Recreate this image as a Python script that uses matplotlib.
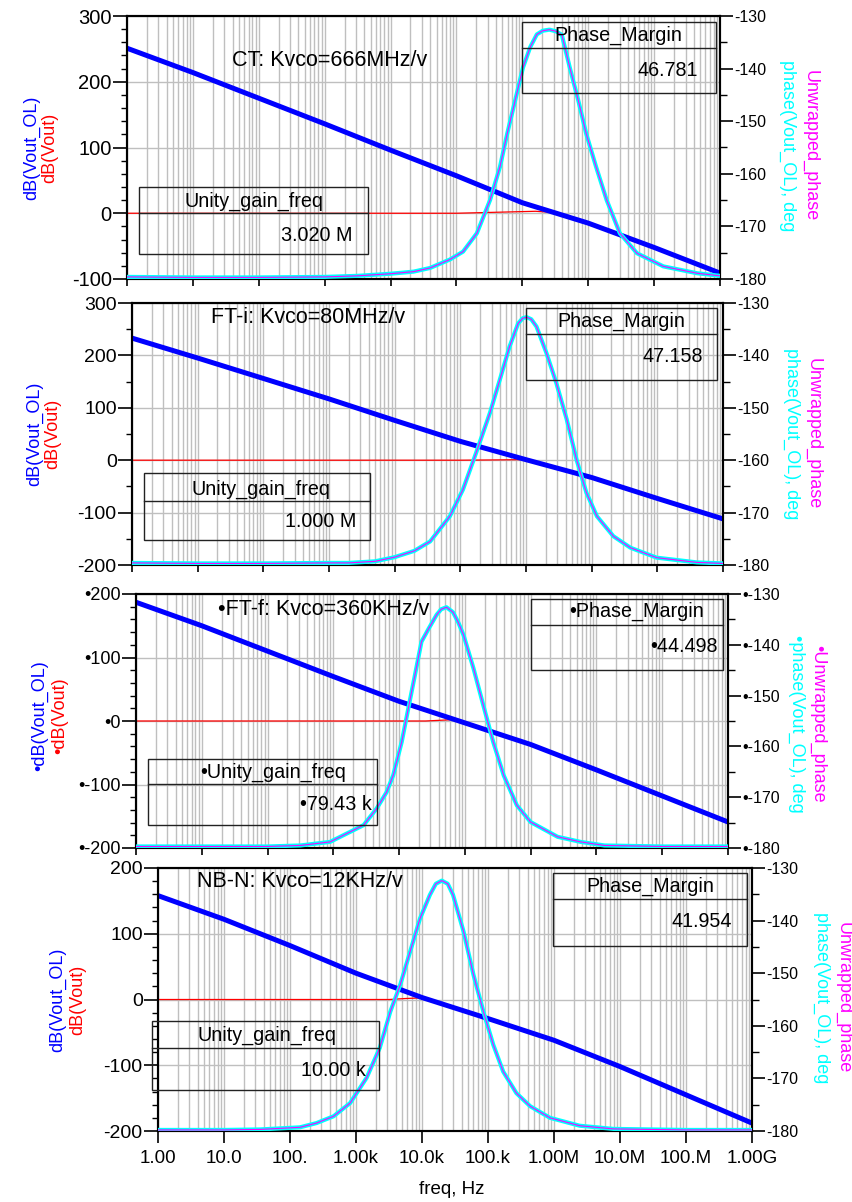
import numpy as np
import matplotlib
matplotlib.use('Agg')
import matplotlib.pyplot as plt
from matplotlib.ticker import FixedLocator, MultipleLocator, FuncFormatter, LogLocator, NullFormatter, FixedFormatter
from matplotlib.patches import Rectangle
from matplotlib.lines import Line2D

plt.rcParams['font.family'] = ['Liberation Sans', 'DejaVu Sans']
plt.rcParams['axes.unicode_minus'] = False

# ---------------- data (log10 of frequency in Hz, values) ----------------
decades = [0, 1, 2, 3, 4, 5, 6, 7, 8, 9]
x_tick_labels = ["1.00", "10.0", "100.", "1.00k", "10.0k", "100.k", "1.00M", "10.0M", "100.M", "1.00G"]

# Panel 1 : CT
ct_gain = [251, 214, 175, 136, 96, 57, 16, -15, -52, -91]
ct_cl_logf = [0, 1, 2, 3, 4, 5, 5.6, 6.2, 6.5, 7, 8, 9]
ct_cl_gain = [0, 0, 0, 0, 0, 0, 1.5, 3, 1, -15, -52, -91]
ct_ph_logf = [0, 1, 2, 3, 3.5, 4.0, 4.35, 4.6, 4.9, 5.1, 5.31, 5.51, 5.66, 5.77, 5.89, 6.01,
              6.12, 6.22, 6.31, 6.41, 6.51, 6.60, 6.72, 6.85, 6.97, 7.12, 7.28, 7.48, 7.74, 8.14, 8.65, 9.0]
ct_phase = [-179.6, -179.7, -179.7, -179.6, -179.4, -179.0, -178.6, -177.9, -176.3, -174.8, -171.3,
            -165.0, -158.7, -152.4, -146.1, -139.8, -135.9, -133.5, -132.8, -132.6, -132.9, -133.6,
            -139.8, -146.1, -152.4, -158.7, -165.0, -171.3, -175.1, -177.6, -178.9, -179.4]

# Panel 2 : FT-i
fti_gain = [233, 195, 156, 117, 76, 36, 1, -33, -73, -112]
fti_cl_logf = [0, 1, 2, 3, 4, 5, 5.5, 5.9, 6.0, 7, 8, 9]
fti_cl_gain = [0, 0, 0, 0, 0, 0, 0.5, 1, 1, -33, -73, -112]
fti_ph_logf = [0, 1, 2, 3, 3.3, 3.7, 4.0, 4.3, 4.54, 4.84, 5.04, 5.24, 5.45, 5.60, 5.75, 5.88, 5.95,
               6.01, 6.08, 6.16, 6.31, 6.46, 6.62, 6.77, 6.92, 7.08, 7.33, 7.59, 7.99, 8.6, 9.0]
fti_phase = [-179.6, -179.7, -179.7, -179.6, -179.6, -179.3, -178.5, -177.3, -175.5, -170.7, -165.6,
             -158.6, -151.0, -144.7, -138.3, -133.9, -132.9, -132.7, -133.1, -134.5, -139.5, -145.2,
             -152.2, -159.9, -166.2, -170.7, -174.5, -176.7, -178.6, -179.5, -179.7]

# Panel 3 : FT-f
ftf_gain = [187, 150, 110, 70, 31, -3, -37, -77, -118, -159]
ftf_cl_logf = [0, 1, 2, 3, 4, 4.4, 4.7, 4.9, 5, 6, 7, 8, 9]
ftf_cl_gain = [0, 0, 0, 0, 0, 0, 1.5, 2.5, -3, -37, -77, -118, -159]
ftf_ph_logf = [0, 1, 2, 2.5, 2.95, 3.46, 3.66, 3.81, 3.91, 4.04, 4.14, 4.24, 4.34, 4.45, 4.57, 4.64,
               4.72, 4.82, 4.9, 4.98, 5.13, 5.28, 5.43, 5.59, 5.79, 6.0, 6.41, 6.76, 7.12, 8, 9]
ftf_phase = [-179.7, -179.7, -179.7, -179.5, -178.8, -175.5, -172.2, -169.0, -165.7, -159.1, -152.5,
             -146.0, -139.4, -136.8, -134.1, -133.0, -132.6, -133.6, -135.6, -138.1, -144.6, -151.9,
             -159.1, -165.7, -171.6, -174.9, -177.8, -178.8, -179.5, -179.7, -179.7]

# Panel 4 : NB-N
nbn_gain = [158, 122, 82, 40, 3, -29, -62, -102, -145, -188]
nbn_cl_logf = [0, 1, 2, 3, 3.5, 3.75, 4.0, 4.1, 5, 6, 7, 8, 9]
nbn_cl_gain = [0, 0, 0, 0, 0, 1.5, 2.5, -0.3, -29, -62, -102, -145, -188]
nbn_ph_logf = [0, 1, 1.55, 2.15, 2.4, 2.66, 2.91, 3.16, 3.36, 3.52, 3.67, 3.82, 3.97, 4.12, 4.21,
               4.30, 4.39, 4.47, 4.63, 4.78, 4.93, 5.08, 5.23, 5.43, 5.64, 5.94, 6.39, 6.9, 8, 9]
nbn_phase = [-179.8, -179.8, -179.7, -179.3, -178.5, -177.2, -174.7, -169.9, -164.2, -157.3, -152.2,
             -145.9, -139.6, -135.1, -133.0, -132.4, -133.0, -135.1, -142.1, -150.3, -157.3, -163.6,
             -168.7, -172.8, -175.3, -177.5, -179.0, -179.6, -179.8, -179.8]

titles = ["CT: Kvco=666MHz/v", "FT-i: Kvco=80MHz/v", "\u2022FT-f: Kvco=360KHz/v", "NB-N: Kvco=12KHz/v"]
ugf_values = ["3.020 M", "1.000 M", "\u202279.43 k", "10.00 k"]
pm_values = ["46.781", "47.158", "\u202244.498", "41.954"]

# ---------------- layout ----------------
W, H = 853, 1202
fig = plt.figure(figsize=(W / 100, H / 100), dpi=100)

def fx(x):
    return x / W

def fy(y):
    return 1 - y / H

BLUE = '#0000ff'
RED = '#ff0000'
CYAN = '#00ffff'
MAGENTA = '#ff00ff'
GRID = '#bfbfbf'

panels = [
    dict(box=(127, 16, 720, 279), ylim=(-100, 300), minor=20, lfs=14.5, bullet=False,
         gain=ct_gain, cl=(ct_cl_logf, ct_cl_gain), ph=(ct_ph_logf, ct_phase),
         title=(231.7, 60), ugf=(139.3, 186.7, 367.7, 254.3, 213.3, 254, 201.7, 352.3, 235),
         pm=(521.7, 21.7, 715.7, 93.3, 48.3, 618, 35, 698.3, 70),
         llab=(32, 50, 147.6), rlab=(788, 810, 146), xlen=5),
    dict(box=(132, 303, 723, 565), ylim=(-200, 300), minor=50, lfs=14, bullet=False,
         gain=fti_gain, cl=(fti_cl_logf, fti_cl_gain), ph=(fti_ph_logf, fti_phase),
         title=(211, 317.3), ugf=(144, 473.3, 370, 540, 500.7, 261, 489, 356.7, 521.7),
         pm=(525.7, 308.3, 716.7, 380, 334.3, 621.7, 321.7, 702.7, 356.7),
         llab=(35, 53, 434), rlab=(792, 813, 434), xlen=5),
    dict(box=(136, 594, 728, 848), ylim=(-200, 200), minor=20, lfs=13, bullet=True,
         gain=ftf_gain, cl=(ftf_cl_logf, ftf_cl_gain), ph=(ftf_ph_logf, ftf_phase),
         title=(218.3, 609.3), ugf=(148.3, 759.3, 376.7, 825, 784.3, 273, 772.7, 371.7, 805),
         pm=(530.7, 599, 723.3, 670, 625, 636.7, 611.7, 717.3, 646),
         llab=(40, 60, 716), rlab=(797, 818, 724), xlen=5),
    dict(box=(158, 868, 752, 1131), ylim=(-200, 200), minor=20, lfs=14, bullet=False,
         gain=nbn_gain, cl=(nbn_cl_logf, nbn_cl_gain), ph=(nbn_ph_logf, nbn_phase),
         title=(196.7, 881.7), ugf=(152.3, 1021, 379.3, 1090, 1047.7, 267.3, 1035, 366, 1070),
         pm=(553.3, 873.3, 746.7, 945.7, 899, 650, 886.7, 731.7, 921.7),
         llab=(58, 78, 1000), rlab=(822, 843, 998), xlen=8.6),
]

TXT = 14.2

for i, p in enumerate(panels):
    l, t, r, b = p['box']
    ax = fig.add_axes([fx(l), fy(b), (r - l) / W, (b - t) / H])
    bullet = '\u2022' if p['bullet'] else ''

    f_dec = np.power(10.0, decades)
    cl_f = np.power(10.0, p['cl'][0])
    ph_f = np.power(10.0, p['ph'][0])

    ax.set_xscale('log')
    ax.set_xlim(1, 1e9)
    ax.set_ylim(*p['ylim'])
    ax.set_axisbelow(True)

    ax.plot(cl_f, p['cl'][1], color=RED, lw=0.9, zorder=2, solid_capstyle='butt')
    ax.plot(f_dec, p['gain'], color=BLUE, lw=3.6, zorder=3, solid_capstyle='butt')

    ax.xaxis.set_major_locator(FixedLocator(f_dec))
    ax.xaxis.set_minor_locator(LogLocator(base=10, subs=np.arange(2, 10), numticks=100))
    ax.xaxis.set_minor_formatter(NullFormatter())
    if i == 3:
        ax.xaxis.set_major_formatter(FixedFormatter(x_tick_labels))
        ax.tick_params(axis='x', which='major', labelsize=13.5, pad=5)
    else:
        ax.xaxis.set_major_formatter(NullFormatter())
    ax.tick_params(axis='x', which='major', length=p['xlen'], width=1.2, direction='out')
    ax.tick_params(axis='x', which='minor', length=0)
    ax.grid(True, which='both', axis='x', color=GRID, lw=1.0)
    ax.grid(True, which='major', axis='y', color=GRID, lw=1.0)

    ax.yaxis.set_major_locator(MultipleLocator(100))
    ax.yaxis.set_minor_locator(MultipleLocator(p['minor']))
    ax.yaxis.set_major_formatter(FuncFormatter(lambda v, pos, bb=bullet: f"{bb}{int(round(v))}"))
    ax.tick_params(axis='y', which='major', length=10, width=1.2, pad=1, labelsize=p['lfs'])
    ax.tick_params(axis='y', which='minor', length=4.3, width=1.0)

    for s in ax.spines.values():
        s.set_linewidth(1.5)
        s.set_color('black')

    ax2 = ax.twinx()
    ax2.set_ylim(-180, -130)
    ax2.plot(ph_f, p['ph'][1], color=CYAN, lw=3.0, zorder=3)
    ax2.plot(ph_f, p['ph'][1], color=MAGENTA, lw=0.8, zorder=4)
    ax2.yaxis.set_major_locator(MultipleLocator(10))
    ax2.yaxis.set_minor_locator(MultipleLocator(5))
    ax2.yaxis.set_major_formatter(FuncFormatter(lambda v, pos, bb=bullet: f"{bb}{int(round(v))}"))
    ax2.tick_params(axis='y', which='major', length=9, width=1.2, pad=1, labelsize=11.5)
    ax2.tick_params(axis='y', which='minor', length=5, width=1.0)
    for s in ax2.spines.values():
        s.set_linewidth(1.5)
        s.set_color('black')

    # title
    tx, ty = p['title']
    fig.text(fx(tx), fy(ty), titles[i], ha='left', va='center', fontsize=15.5)

    # annotation boxes
    for (bx0, by0, bx1, by1, dv, hx, hy, vx, vy), head, val in (
            (p['ugf'], 'Unity_gain_freq', ugf_values[i]),
            (p['pm'], 'Phase_Margin', pm_values[i])):
        rect = Rectangle((fx(bx0), fy(by1)), (bx1 - bx0) / W, (by1 - by0) / H,
                         transform=fig.transFigure, fill=False, ec='#222222', lw=1.0, zorder=5)
        fig.add_artist(rect)
        fig.add_artist(Line2D([fx(bx0), fx(bx1)], [fy(dv), fy(dv)], transform=fig.transFigure,
                              color='#222222', lw=1.0, zorder=5))
        fig.text(fx(hx), fy(hy), bullet + head, ha='center', va='center', fontsize=TXT, zorder=6)
        fig.text(fx(vx), fy(vy), val, ha='right', va='center', fontsize=TXT, zorder=6)

    # axis labels
    bxl, rxl, yl = p['llab']
    fig.text(fx(bxl), fy(yl), bullet + 'dB(Vout_OL)', color=BLUE, rotation=90,
             ha='center', va='center', fontsize=13)
    fig.text(fx(rxl), fy(yl), bullet + 'dB(Vout)', color=RED, rotation=90,
             ha='center', va='center', fontsize=13)
    cxl, mxl, yr = p['rlab']
    fig.text(fx(cxl), fy(yr), bullet + 'phase(Vout_OL), deg', color=CYAN, rotation=270,
             ha='center', va='center', fontsize=13)
    fig.text(fx(mxl), fy(yr), bullet + 'Unwrapped_phase', color=MAGENTA, rotation=270,
             ha='center', va='center', fontsize=13)

# x axis label
fig.text(fx(452), fy(1189), "freq, Hz", ha='center', va='center', fontsize=13.5)

fig.savefig('out.png', dpi=100)
